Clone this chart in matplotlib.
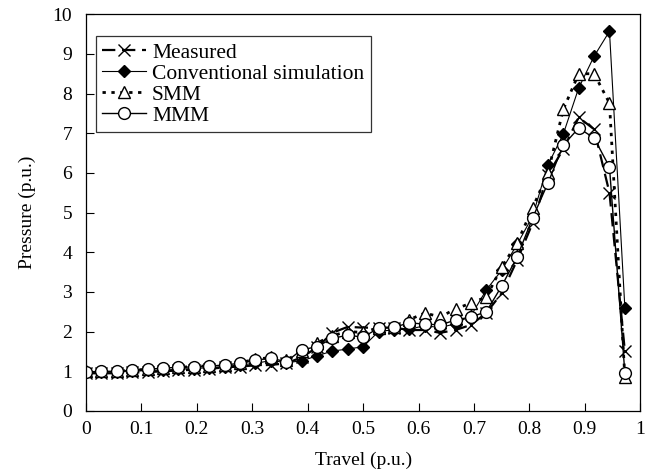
import numpy as np
import matplotlib as mpl
mpl.use('Agg')
import matplotlib.pyplot as plt

plt.rcParams['font.family'] = ['Liberation Serif', 'DejaVu Serif']

# travel positions (36 samples, step 1/36)
travel = np.arange(36) / 36.0

measured = [0.95, 0.95, 0.95, 0.97, 0.98, 1.0, 1.02, 1.04, 1.06, 1.1,
            1.12, 1.15, 1.16, 1.2, 1.35, 1.6, 1.97, 2.12, 2.1, 2.1,
            2.1, 2.04, 2.04, 1.97, 2.04, 2.17, 2.47, 2.97, 3.8, 4.73,
            5.95, 6.6, 7.4, 7.1, 5.5, 1.5]
conventional = [0.98, 0.98, 0.98, 1.0, 1.02, 1.03, 1.05, 1.07, 1.09, 1.12,
                1.16, 1.2, 1.27, 1.22, 1.26, 1.39, 1.51, 1.56, 1.62, 2.0,
                2.05, 2.06, 2.15, 2.1, 2.2, 2.4, 3.05, 3.55, 4.2, 4.9,
                6.2, 6.98, 8.14, 8.94, 9.57, 2.6]
smm = [1.0, 1.0, 1.0, 1.03, 1.05, 1.08, 1.1, 1.12, 1.14, 1.17,
       1.22, 1.3, 1.35, 1.28, 1.5, 1.71, 1.9, 2.0, 1.98, 2.1,
       2.12, 2.3, 2.47, 2.37, 2.57, 2.72, 2.87, 3.63, 4.23, 5.11,
       6.0, 7.6, 8.5, 8.5, 7.76, 0.85]
mmm = [0.98, 1.0, 1.0, 1.03, 1.05, 1.08, 1.1, 1.11, 1.13, 1.16,
       1.2, 1.28, 1.33, 1.24, 1.54, 1.62, 1.83, 1.91, 1.86, 2.09,
       2.11, 2.22, 2.19, 2.17, 2.29, 2.37, 2.5, 3.15, 3.88, 4.86,
       5.74, 6.7, 7.13, 6.88, 6.15, 0.95]

xticks = np.arange(0, 1.01, 0.1)
xticklabels = ['0', '0.1', '0.2', '0.3', '0.4', '0.5', '0.6', '0.7', '0.8', '0.9', '1']

fig = plt.figure(figsize=(6.52, 4.74), dpi=100)
ax = fig.add_axes([0.132, 0.133, 0.85, 0.837])

ax.plot(travel, measured, color='black', linestyle=(0, (6, 3)), linewidth=1.6,
        marker='x', markersize=8, markeredgewidth=1.0, label='Measured')
ax.plot(travel, conventional, color='black', linestyle='-', linewidth=0.8,
        marker='D', markersize=6, markerfacecolor='black', label='Conventional simulation')
ax.plot(travel, smm, color='black', linestyle=(0, (1.2, 2)), linewidth=2.0,
        marker='^', markersize=8.5, markerfacecolor='white', markeredgewidth=1.0, label='SMM')
ax.plot(travel, mmm, color='black', linestyle='-', linewidth=1.0,
        marker='o', markersize=8.5, markerfacecolor='white', markeredgewidth=1.0, label='MMM')

ax.set_xlim(0, 1)
ax.set_ylim(0, 10)
ax.set_xticks(xticks)
ax.set_xticklabels(xticklabels)
ax.set_yticks(range(0, 11))
ax.tick_params(direction='in', length=6, width=0.8, labelsize=14)
ax.tick_params(axis='x', pad=7)
ax.tick_params(axis='y', pad=10)
for s in ax.spines.values():
    s.set_linewidth(0.9)

ax.set_xlabel('Travel (p.u.)', fontsize=14, labelpad=10)
ax.set_ylabel('Pressure (p.u.)', fontsize=14, labelpad=12)

leg = ax.legend(loc='upper left', bbox_to_anchor=(0.018, 0.945), fontsize=15.5,
                frameon=True, fancybox=False, edgecolor='black', handlelength=2.0,
                handletextpad=0.3, borderpad=0.3, labelspacing=0.05, borderaxespad=0)
leg.get_frame().set_linewidth(0.9)

plt.savefig('out.png', dpi=100)
